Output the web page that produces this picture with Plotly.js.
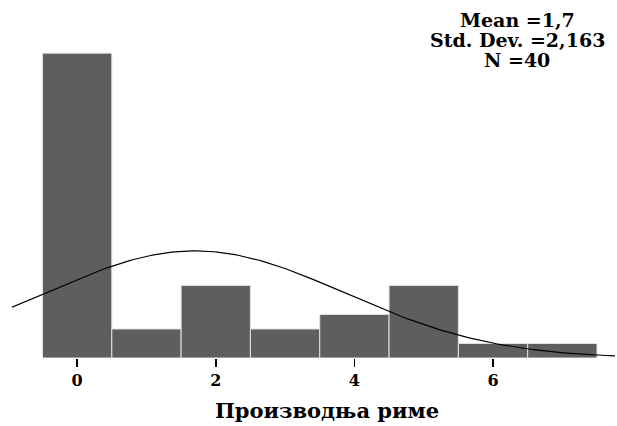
<!DOCTYPE html>
<html>
<head>
<meta charset="utf-8">
<script src="https://cdn.plot.ly/plotly-3.0.1.min.js"></script>
<style>html,body{margin:0;padding:0;background:#fff;}#chart{width:617px;height:426px;}</style>
</head>
<body>
<div id="chart"></div>
<script>
// Rhyme production scores: frequency of each value
const scores = [0, 1, 2, 3, 4, 5, 6, 7];
const counts = [21, 2, 5, 2, 3, 5, 1, 1];
const statMean = 1.7;
const statSD = 2.163;
const statN = 40;
const axisTitle = 'Производња риме';
const tickValues = [0, 2, 4, 6];

// Fitted normal curve scaled to counts (bin width 1)
const xMin = -0.94, xMax = 7.76;
const curveX = [], curveY = [];
for (let i = 0; i <= 200; i++) {
  const x = xMin + (xMax - xMin) * i / 200;
  const z = (x - statMean) / statSD;
  curveX.push(x);
  curveY.push(statN / (statSD * Math.sqrt(2 * Math.PI)) * Math.exp(-0.5 * z * z));
}

const serif = '"DejaVu Serif", "Liberation Serif", serif';
const comma = v => String(v).replace('.', ',');
const plotH = 358; // plot-area height in px (used to place paper-referenced text)

const traces = [
  {
    type: 'bar', x: scores, y: counts, width: 1,
    marker: {color: '#5e5e5e', line: {color: '#e2e2e2', width: 1}},
    hoverinfo: 'skip'
  },
  {
    type: 'scatter', mode: 'lines', x: curveX, y: curveY,
    line: {color: '#000', width: 1.2}, hoverinfo: 'skip'
  }
];

// Summary statistics block, one line per annotation
const statLines = ['Mean =' + comma(statMean), 'Std. Dev. =' + comma(statSD), 'N =' + statN];
const statTops = [7, 27, 47];
const annotations = statLines.map((t, i) => ({
  xref: 'paper', yref: 'paper', x: 0.838, y: 1 - statTops[i] / plotH,
  xanchor: 'center', yanchor: 'top', showarrow: false,
  text: '<b>' + t + '</b>',
  font: {family: serif, size: 19, color: '#000'}
}));

// x-axis title
annotations.push({
  xref: 'paper', yref: 'paper', x: 0.5216, y: -(410 - plotH) / plotH,
  xanchor: 'center', yanchor: 'middle', showarrow: false,
  text: '<b>' + axisTitle + '</b>',
  font: {family: serif, size: 21, color: '#000'}
});

const layout = {
  width: 617, height: 426,
  margin: {l: 12, r: 2, t: 0, b: 68},
  paper_bgcolor: '#fff', plot_bgcolor: '#fff',
  showlegend: false, bargap: 0,
  xaxis: {
    range: [xMin, xMax], showgrid: false, zeroline: false, showline: false,
    tickvals: tickValues, ticktext: tickValues.map(String),
    ticks: 'outside', ticklen: 8, tickwidth: 1.5, tickcolor: '#000',
    tickfont: {family: serif, size: 16, color: '#000', weight: 'bold'}
  },
  yaxis: {range: [0, 24.66], visible: false, showgrid: false, zeroline: false},
  annotations: annotations
};

Plotly.newPlot('chart', traces, layout, {staticPlot: true, displayModeBar: false});
</script>
</body>
</html>
